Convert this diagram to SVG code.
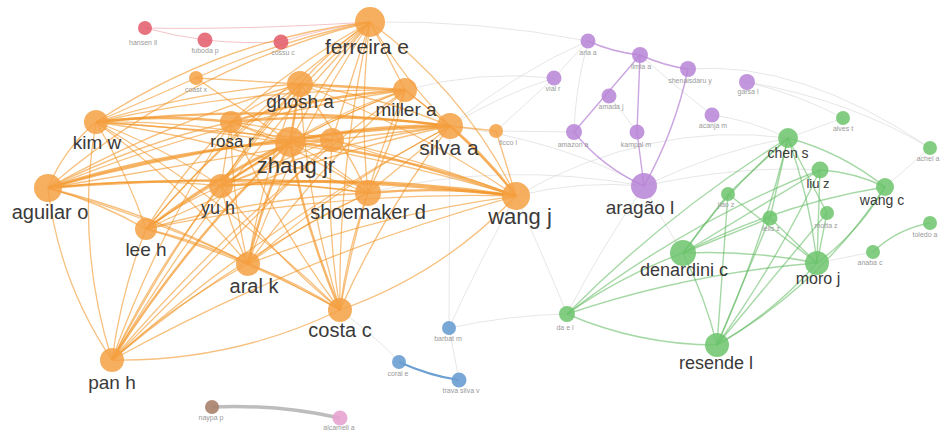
<svg xmlns="http://www.w3.org/2000/svg" width="951" height="432" viewBox="0 0 951 432">
<style>
.eo{fill:none;stroke:#f29628;stroke-opacity:.6;stroke-width:1.3}
.eot{fill:none;stroke:#f29628;stroke-opacity:.7;stroke-width:2.4}
.eg{fill:none;stroke:#5cb85c;stroke-opacity:.55;stroke-width:1.4}
.ep{fill:none;stroke:#b57fd3;stroke-opacity:.7;stroke-width:1.4}
.ef{fill:none;stroke:#c8c8c8;stroke-opacity:.45;stroke-width:1}
.er{fill:none;stroke:#e88a95;stroke-opacity:.5;stroke-width:1}
.no{fill:#f5a043;fill-opacity:.85}
.nr{fill:#e35b6b;fill-opacity:.85}
.np{fill:#b784d6;fill-opacity:.85}
.ng{fill:#6cc46c;fill-opacity:.85}
.nb{fill:#6c9fd2;fill-opacity:.9}
.lb{font-family:"Liberation Sans",Arial,sans-serif;fill:#3a3a3a;text-anchor:middle}
.ls{font-family:"Liberation Sans",Arial,sans-serif;fill:#9a9a9a;font-size:7px;text-anchor:middle}
</style>
<rect width="951" height="432" fill="#ffffff"/>
<g id="connectors">
<!-- faint cross-cluster -->
<path class="ef" d="M450,126 Q520,70 588,41"/>
<path class="ef" d="M450,126 Q500,95 554,78"/>
<path class="ef" d="M496,131 L554,78"/>
<path class="ef" d="M496,131 L574,132"/>
<path class="ef" d="M516,196 Q580,180 644,186"/>
<path class="ef" d="M516,196 Q545,260 567,314"/>
<path class="ef" d="M368,193 Q500,160 644,186"/>
<path class="ef" d="M370,22 Q480,20 588,41"/>
<path class="ef" d="M405,90 Q480,70 554,78"/>
<path class="ef" d="M644,186 Q720,150 788,138"/>
<path class="ef" d="M644,186 Q665,225 683,253"/>
<path class="ef" d="M644,186 Q600,250 567,314"/>
<path class="ef" d="M567,314 Q510,315 449,328"/>
<path class="ef" d="M449,328 L450,126"/>
<path class="ef" d="M644,186 Q740,165 820,170"/>
<path class="ef" d="M640,55 Q680,90 712,115"/>
<path class="ef" d="M712,115 Q750,120 788,138"/>
<path class="ef" d="M747,82 Q800,95 843,118"/>
<path class="ef" d="M688,69 Q800,60 930,148"/>
<path class="ef" d="M747,82 Q850,100 930,148"/>
<path class="ef" d="M588,41 Q570,60 554,78"/>
<path class="ef" d="M588,41 Q575,90 574,132"/>
<path class="ef" d="M609,96 Q625,115 637,132"/>
<path class="ef" d="M516,196 Q480,260 449,328"/>
<path class="ef" d="M340,310 Q380,340 399,362"/>
<path class="ef" d="M449,328 L459,380"/>
<path class="ef" d="M516,196 Q650,120 788,138"/>
<path class="ef" d="M450,126 Q560,140 644,186"/>
<!-- red -->
<path class="er" d="M145,28 Q175,36 205,40"/>
<path class="er" d="M205,40 Q245,44 281,42"/>
<path class="er" d="M281,42 Q325,28 370,22"/>
<path class="er" d="M145,28 Q240,30 370,22"/>
<!-- orange -->
<path class="eo" d="M48,188 Q189,66 370,22"/>
<path class="eo" d="M370,22 Q464,91 516,196"/>
<path class="eo" d="M516,196 Q442,274 340,310"/>
<path class="eo" d="M340,310 Q232,362 112,360"/>
<path class="eo" d="M112,360 Q59,282 48,188"/>
<path class="eo" d="M96,122 Q221,39 370,22"/>
<path class="eo" d="M48,188 Q64,149 96,122"/>
<path class="eo" d="M112,360 Q75,243 96,122"/>
<path class="eot" d="M48,188 Q282,169 516,196"/>
<path class="eo" d="M112,360 Q304,254 516,196"/>
<path class="eo" d="M112,360 Q221,176 370,22"/>
<path class="eo" d="M112,360 Q267,223 450,126"/>
<path class="eo" d="M112,360 Q242,207 405,90"/>
<path class="eo" d="M112,360 Q189,211 300,84"/>
<path class="eot" d="M112,360 Q188,240 290,142"/>
<path class="eo" d="M112,360 Q157,234 231,122"/>
<path class="eo" d="M112,360 Q156,267 221,186"/>
<path class="eo" d="M112,360 Q121,292 146,229"/>
<path class="eo" d="M112,360 Q174,304 248,264"/>
<path class="eo" d="M112,360 Q230,261 368,193"/>
<path class="eot" d="M48,188 Q245,133 450,126"/>
<path class="eo" d="M48,188 Q220,118 405,90"/>
<path class="eo" d="M48,188 Q168,121 300,84"/>
<path class="eo" d="M48,188 Q136,144 231,122"/>
<path class="eot" d="M48,188 Q166,150 290,142"/>
<path class="eo" d="M48,188 Q134,177 221,186"/>
<path class="eo" d="M48,188 Q208,171 368,193"/>
<path class="eo" d="M48,188 Q99,202 146,229"/>
<path class="eo" d="M48,188 Q153,214 248,264"/>
<path class="eo" d="M48,188 Q201,232 340,310"/>
<path class="eo" d="M96,122 Q310,134 516,196"/>
<path class="eot" d="M96,122 Q273,103 450,126"/>
<path class="eo" d="M96,122 Q248,88 405,90"/>
<path class="eo" d="M96,122 Q196,91 300,84"/>
<path class="eot" d="M96,122 Q163,114 231,122"/>
<path class="eo" d="M96,122 Q194,120 290,142"/>
<path class="eo" d="M96,122 Q162,147 221,186"/>
<path class="eo" d="M96,122 Q236,141 368,193"/>
<path class="eo" d="M96,122 Q127,173 146,229"/>
<path class="eo" d="M96,122 Q181,184 248,264"/>
<path class="eo" d="M96,122 Q229,201 340,310"/>
<path class="eo" d="M146,229 Q329,191 516,196"/>
<path class="eo" d="M146,229 Q292,160 450,126"/>
<path class="eo" d="M146,229 Q246,112 370,22"/>
<path class="eo" d="M146,229 Q214,148 300,84"/>
<path class="eo" d="M146,229 Q267,144 405,90"/>
<path class="eo" d="M146,229 Q182,171 231,122"/>
<path class="eot" d="M146,229 Q213,177 290,142"/>
<path class="eo" d="M146,229 Q181,203 221,186"/>
<path class="eo" d="M146,229 Q255,198 368,193"/>
<path class="eo" d="M146,229 Q199,241 248,264"/>
<path class="eo" d="M146,229 Q248,258 340,310"/>
<path class="eo" d="M248,264 Q378,214 516,196"/>
<path class="eo" d="M248,264 Q341,183 450,126"/>
<path class="eo" d="M248,264 Q295,136 370,22"/>
<path class="eo" d="M248,264 Q317,168 405,90"/>
<path class="eo" d="M248,264 Q263,171 300,84"/>
<path class="eo" d="M248,264 Q231,194 231,122"/>
<path class="eot" d="M248,264 Q262,201 290,142"/>
<path class="eo" d="M248,264 Q230,227 221,186"/>
<path class="eo" d="M248,264 Q304,222 368,193"/>
<path class="eo" d="M248,264 Q297,282 340,310"/>
<path class="eo" d="M340,310 Q384,211 450,126"/>
<path class="eo" d="M340,310 Q338,164 370,22"/>
<path class="eo" d="M340,310 Q360,196 405,90"/>
<path class="eo" d="M340,310 Q306,199 300,84"/>
<path class="eo" d="M340,310 Q275,223 231,122"/>
<path class="eot" d="M340,310 Q305,229 290,142"/>
<path class="eo" d="M340,310 Q273,255 221,186"/>
<path class="eo" d="M340,310 Q347,250 368,193"/>
<path class="eo" d="M340,310 Q326,225 332,140"/>
<path class="eot" d="M221,186 Q369,173 516,196"/>
<path class="eo" d="M221,186 Q332,142 450,126"/>
<path class="eo" d="M221,186 Q286,95 370,22"/>
<path class="eo" d="M221,186 Q307,127 405,90"/>
<path class="eo" d="M221,186 Q254,130 300,84"/>
<path class="eo" d="M221,186 L231,122"/>
<path class="eot" d="M221,186 L290,142"/>
<path class="eo" d="M221,186 Q295,181 368,193"/>
<path class="eo" d="M231,122 Q378,142 516,196"/>
<path class="eot" d="M231,122 Q340,111 450,126"/>
<path class="eo" d="M231,122 Q294,64 370,22"/>
<path class="eot" d="M231,122 Q316,96 405,90"/>
<path class="eo" d="M231,122 Q263,99 300,84"/>
<path class="eo" d="M231,122 Q304,150 368,193"/>
<path class="eo" d="M231,122 L290,142"/>
<path class="eot" d="M290,142 Q406,155 516,196"/>
<path class="eot" d="M290,142 Q369,124 450,126"/>
<path class="eo" d="M290,142 Q323,77 370,22"/>
<path class="eo" d="M290,142 Q345,109 405,90"/>
<path class="eot" d="M290,142 L300,84"/>
<path class="eo" d="M290,142 Q332,163 368,193"/>
<path class="eot" d="M290,142 L332,140"/>
<path class="eo" d="M300,84 Q415,127 516,196"/>
<path class="eo" d="M300,84 Q378,96 450,126"/>
<path class="eo" d="M300,84 Q331,49 370,22"/>
<path class="eot" d="M300,84 L405,90"/>
<path class="eo" d="M300,84 Q340,135 368,193"/>
<path class="eo" d="M405,90 Q467,136 516,196"/>
<path class="eo" d="M405,90 L370,22"/>
<path class="eo" d="M405,90 L450,126"/>
<path class="eo" d="M405,90 Q393,144 368,193"/>
<path class="eot" d="M450,126 Q487,157 516,196"/>
<path class="eo" d="M450,126 Q404,79 370,22"/>
<path class="eo" d="M450,126 L368,193"/>
<path class="eot" d="M368,193 Q442,186 516,196"/>
<path class="eo" d="M368,193 Q359,108 370,22"/>
<path class="eo" d="M450,126 L496,131"/>
<path class="eo" d="M516,196 L496,131"/>
<path class="eo" d="M196,78 Q280,40 370,22"/>
<path class="eo" d="M196,78 L300,84"/>
<path class="eo" d="M196,78 L96,122"/>
<path class="eo" d="M196,78 L290,142"/>
<path class="eo" d="M332,140 L96,122"/>
<path class="eo" d="M332,140 L48,188"/>
<path class="eo" d="M332,140 L516,196"/>
<path class="eo" d="M332,140 L370,22"/>
<path class="eo" d="M332,140 L112,360"/>
<path class="eo" d="M332,140 L450,126"/>
<path class="eo" d="M332,140 L221,186"/>
<!-- purple -->
<path class="ep" d="M588,41 Q612,52 640,55" stroke-width="2.6"/>
<path class="ep" d="M640,55 Q665,66 688,69" stroke-width="2.6"/>
<path class="ep" d="M640,55 L637,132"/>
<path class="ep" d="M640,55 L574,132"/>
<path class="ep" d="M688,69 Q675,131 644,186" stroke-width="2"/>
<path class="ep" d="M644,186 Q602,167 574,132" stroke-width="2"/>
<path class="ep" d="M637,132 L644,186" stroke-width="1.8"/>
<!-- green -->
<path class="eg" d="M683,253 Q751,250 817,263" stroke-width="6"/>
<path class="eg" d="M683,253 Q705,297 717,345" stroke-width="5"/>
<path class="eg" d="M817,263 Q774,312 717,345" stroke-width="3"/>
<path class="eg" d="M788,138 Q762,245 717,345" stroke-width="3"/>
<path class="eg" d="M683,253 Q728,189 788,138" stroke-width="2.6"/>
<path class="eg" d="M788,138 Q810,198 817,263" stroke-width="2.6"/>
<path class="eg" d="M820,170 Q854,172 885,187" stroke-width="3"/>
<path class="eg" d="M788,138 Q841,152 885,187"/>
<path class="eg" d="M820,170 L817,263" stroke-width="2"/>
<path class="eg" d="M820,170 Q777,262 717,345"/>
<path class="eg" d="M885,187 Q820,286 717,345" stroke-width="2"/>
<path class="eg" d="M885,187 Q859,232 817,263" stroke-width="2"/>
<path class="eg" d="M683,253 Q779,204 885,187"/>
<path class="eg" d="M567,314 Q621,276 683,253" stroke-width="2"/>
<path class="eg" d="M717,345 Q639,345 567,314"/>
<path class="eg" d="M567,314 Q667,213 788,138" stroke-width="2"/>
<path class="eg" d="M567,314 Q689,273 817,263"/>
<path class="eg" d="M567,314 Q690,220 820,170"/>
<path class="eg" d="M728,194 L817,263"/>
<path class="eg" d="M728,194 L717,345"/>
<path class="eg" d="M728,194 L683,253"/>
<path class="eg" d="M770,218 L717,345"/>
<path class="eg" d="M770,218 L683,253"/>
<path class="eg" d="M770,218 L817,263"/>
<path class="eg" d="M770,218 L788,138"/>
<path class="eg" d="M827,213 L717,345"/>
<path class="eg" d="M827,213 L817,263"/>
<path class="eg" d="M827,213 L788,138"/>
<path class="eg" d="M820,170 L683,253"/>
<path class="eg" d="M788,138 L728,194"/>
<path class="eg" d="M873,252 Q897,229 930,223" stroke-width="2"/>
<path class="ef" d="M788,138 L843,118"/>
<path class="ef" d="M885,187 L930,148"/>
<path class="ef" d="M873,252 L817,263"/>
<!-- blue, brown -->
<path d="M399,362 Q430,376 459,380" fill="none" stroke="#6c9fd2" stroke-width="2"/>
<path d="M212,407 Q276,404 340,418" fill="none" stroke="#bdbdbd" stroke-width="3.5"/>
</g>
<g id="n-hansen"><circle class="nr" cx="145" cy="28" r="7"/><text class="ls" x="143" y="45">hansen ll</text></g>
<g id="n-fuboda"><circle class="nr" cx="205" cy="40" r="7.5"/><text class="ls" x="205" y="53">fuboda p</text></g>
<g id="n-cossu"><circle class="nr" cx="281" cy="42" r="7.5"/><text class="ls" x="283" y="55">cossu c</text></g>
<g id="n-coastx"><circle class="no" cx="196" cy="78" r="7"/><text class="ls" x="196" y="92">coast x</text></g>
<g id="n-x2"><circle class="no" cx="496" cy="131" r="7"/><text class="ls" x="508" y="145">ficco l</text></g>
<g id="n-z2"><circle class="no" cx="332" cy="140" r="12"/></g>
<g id="n-ferreira"><circle class="no" cx="370" cy="22" r="15"/><text class="lb" x="367" y="54" font-size="21">ferreira e</text></g>
<g id="n-ghosh"><circle class="no" cx="300" cy="84" r="13"/><text class="lb" x="300" y="108" font-size="19">ghosh a</text></g>
<g id="n-miller"><circle class="no" cx="405" cy="90" r="12"/><text class="lb" x="406" y="116" font-size="19">miller a</text></g>
<g id="n-silva"><circle class="no" cx="450" cy="126" r="13"/><text class="lb" x="449" y="155" font-size="21">silva a</text></g>
<g id="n-kim"><circle class="no" cx="96" cy="122" r="12"/><text class="lb" x="97" y="149" font-size="19">kim w</text></g>
<g id="n-rosa"><circle class="no" cx="231" cy="122" r="11"/><text class="lb" x="232" y="147" font-size="17">rosa r</text></g>
<g id="n-zhang"><circle class="no" cx="290" cy="142" r="15"/><text class="lb" x="296" y="173" font-size="22">zhang jr</text></g>
<g id="n-yu"><circle class="no" cx="221" cy="186" r="12"/><text class="lb" x="218" y="214" font-size="18">yu h</text></g>
<g id="n-shoemaker"><circle class="no" cx="368" cy="193" r="13"/><text class="lb" x="368" y="219" font-size="20">shoemaker d</text></g>
<g id="n-aguilar"><circle class="no" cx="48" cy="188" r="14"/><text class="lb" x="50" y="219" font-size="20">aguilar o</text></g>
<g id="n-wangj"><circle class="no" cx="516" cy="196" r="14"/><text class="lb" x="520" y="224" font-size="22">wang j</text></g>
<g id="n-lee"><circle class="no" cx="146" cy="229" r="11"/><text class="lb" x="146" y="256" font-size="19">lee h</text></g>
<g id="n-aral"><circle class="no" cx="248" cy="264" r="12"/><text class="lb" x="254" y="293" font-size="20">aral k</text></g>
<g id="n-costa"><circle class="no" cx="340" cy="310" r="12"/><text class="lb" x="340" y="337" font-size="20">costa c</text></g>
<g id="n-pan"><circle class="no" cx="112" cy="360" r="12"/><text class="lb" x="112" y="389" font-size="19">pan h</text></g>
<g id="n-aria"><circle class="np" cx="588" cy="41" r="7.5"/><text class="ls" x="588" y="55">aria a</text></g>
<g id="n-ilmia"><circle class="np" cx="640" cy="55" r="8"/><text class="ls" x="641" y="69">ilmia a</text></g>
<g id="n-shen"><circle class="np" cx="688" cy="69" r="8"/><text class="ls" x="690" y="83">shenaisdaru y</text></g>
<g id="n-garsa"><circle class="np" cx="747" cy="82" r="8"/><text class="ls" x="748" y="94">garsa l</text></g>
<g id="n-vial"><circle class="np" cx="554" cy="78" r="7.5"/><text class="ls" x="553" y="91">vial r</text></g>
<g id="n-amada"><circle class="np" cx="609" cy="96" r="7.5"/><text class="ls" x="611" y="109">amada j</text></g>
<g id="n-acanja"><circle class="np" cx="712" cy="115" r="7.5"/><text class="ls" x="713" y="128">acanja m</text></g>
<g id="n-amazon"><circle class="np" cx="574" cy="132" r="8"/><text class="ls" x="573" y="147">amazon a</text></g>
<g id="n-kampal"><circle class="np" cx="637" cy="132" r="7.5"/><text class="ls" x="636" y="147">kampal m</text></g>
<g id="n-aragao"><circle class="np" cx="644" cy="186" r="13"/><text class="lb" x="640" y="214" font-size="19">aragão l</text></g>
<g id="n-chen"><circle class="ng" cx="788" cy="138" r="10"/><text class="lb" x="788" y="158" font-size="14">chen s</text></g>
<g id="n-alves"><circle class="ng" cx="843" cy="118" r="7"/><text class="ls" x="843" y="131">alves t</text></g>
<g id="n-achel"><circle class="ng" cx="930" cy="148" r="7"/><text class="ls" x="928" y="161">achel a</text></g>
<g id="n-liu"><circle class="ng" cx="820" cy="170" r="8.5"/><text class="lb" x="818" y="188" font-size="13">liu z</text></g>
<g id="n-wangc"><circle class="ng" cx="885" cy="187" r="9"/><text class="lb" x="882" y="205" font-size="14">wang c</text></g>
<g id="n-jiao"><circle class="ng" cx="728" cy="194" r="7"/><text class="ls" x="726" y="207">jiao z</text></g>
<g id="n-lelis"><circle class="ng" cx="770" cy="218" r="7.5"/><text class="ls" x="771" y="231">lelis z</text></g>
<g id="n-motta"><circle class="ng" cx="827" cy="213" r="7"/><text class="ls" x="826" y="228">motta z</text></g>
<g id="n-toledo"><circle class="ng" cx="930" cy="223" r="7"/><text class="ls" x="925" y="237">toledo a</text></g>
<g id="n-anaba"><circle class="ng" cx="873" cy="252" r="7"/><text class="ls" x="870" y="265">anaba c</text></g>
<g id="n-denardini"><circle class="ng" cx="683" cy="253" r="13"/><text class="lb" x="684" y="276" font-size="18">denardini c</text></g>
<g id="n-moro"><circle class="ng" cx="817" cy="263" r="12"/><text class="lb" x="818" y="284" font-size="16">moro j</text></g>
<g id="n-dael"><circle class="ng" cx="567" cy="314" r="8"/><text class="ls" x="565" y="330">da e l</text></g>
<g id="n-resende"><circle class="ng" cx="717" cy="345" r="12"/><text class="lb" x="716" y="369" font-size="18">resende l</text></g>
<g id="n-barbat"><circle class="nb" cx="449" cy="328" r="7"/><text class="ls" x="448" y="341">barbat m</text></g>
<g id="n-coral"><circle class="nb" cx="399" cy="362" r="7"/><text class="ls" x="398" y="376">coral e</text></g>
<g id="n-trava"><circle class="nb" cx="459" cy="380" r="7.5"/><text class="ls" x="461" y="393">trava silva v</text></g>
<g id="n-naypa"><circle cx="212" cy="407" r="7" fill="#a9826a" fill-opacity=".9"/><text class="ls" x="211" y="420">naypa p</text></g>
<g id="n-alcamell"><circle cx="340" cy="418" r="7.5" fill="#e7a3d0" fill-opacity=".9"/><text class="ls" x="339" y="430">alcamell a</text></g>
</svg>
